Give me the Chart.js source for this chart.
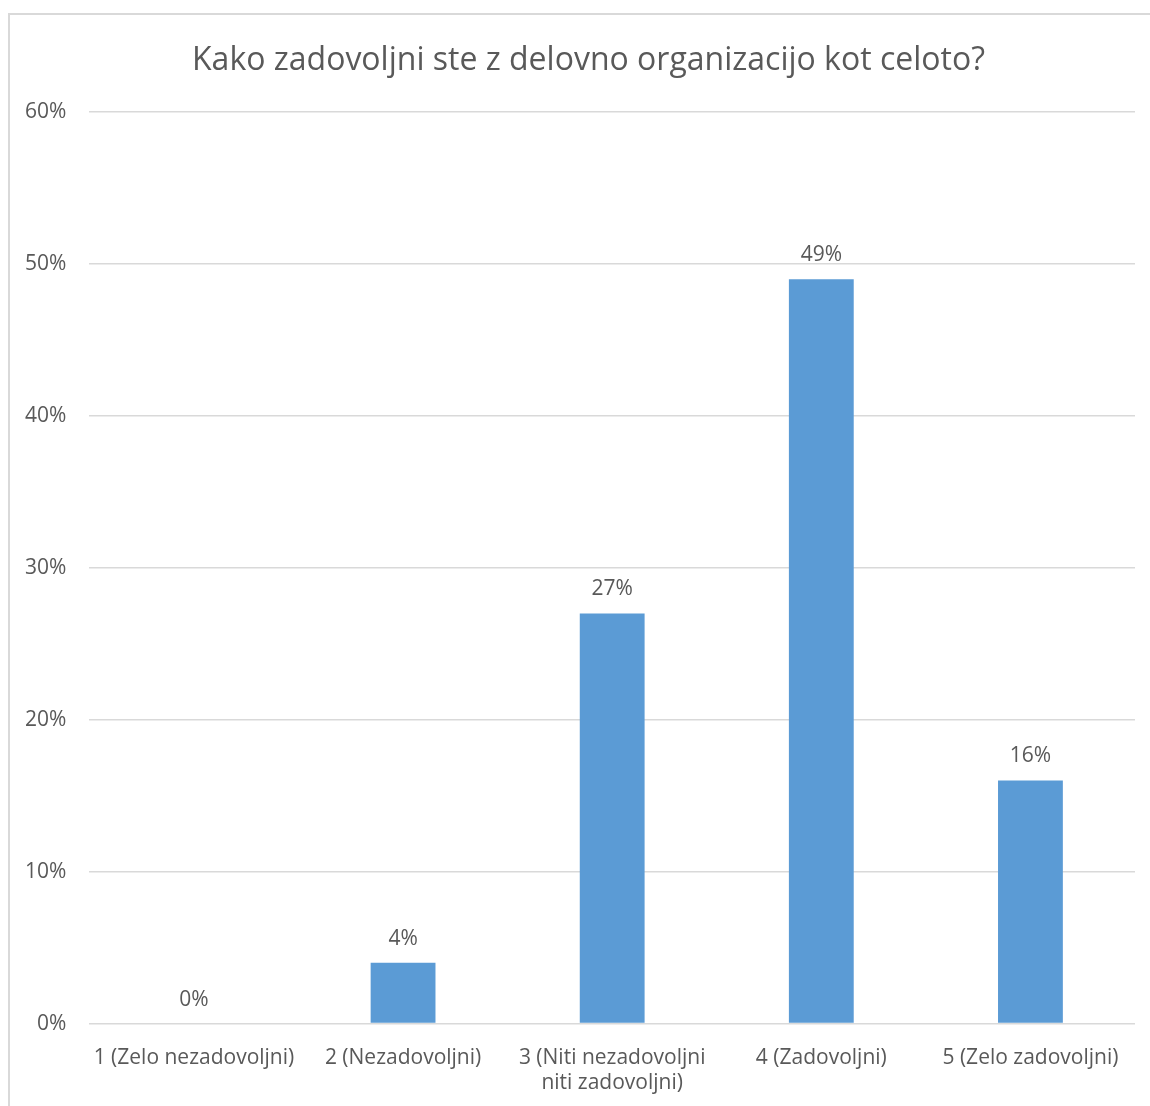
<!DOCTYPE html>
<html>
<head>
<meta charset="utf-8">
<script src="https://cdn.jsdelivr.net/npm/chart.js@4/dist/chart.umd.min.js"></script>
<style>
  html, body { margin: 0; padding: 0; background: #fff; overflow: hidden; }
  .frame { position: absolute; left: 8px; top: 13px; width: 1160px; height: 1110px; border: 2px solid #D9D9D9; box-sizing: border-box; }
  #chart { position: absolute; left: -10px; top: 0; }
</style>
</head>
<body>
<div class="frame"><canvas id="chart" width="1165" height="1095"></canvas></div>
<script>
const title = 'Kako zadovoljni ste z delovno organizacijo kot celoto?';
const categories = [
  '1 (Zelo nezadovoljni)',
  '2 (Nezadovoljni)',
  ['3 (Niti nezadovoljni', 'niti zadovoljni)'],
  '4 (Zadovoljni)',
  '5 (Zelo zadovoljni)'
];
const shares = [0, 4, 27, 49, 16];
const yTicks = [0, 10, 20, 30, 40, 50, 60];

const FONT = "'Open Sans', sans-serif";
const TEXT = '#595959';

// title centred on the whole frame, value labels above each bar
const annotate = {
  id: 'annotate',
  afterDraw(chart) {
    const ctx = chart.ctx;
    ctx.save();
    ctx.fillStyle = TEXT;
    ctx.textAlign = 'center';
    ctx.textBaseline = 'middle';
    ctx.font = `32px ${FONT}`;
    ctx.fillText(title, chart.width / 2 + 6, 46);
    ctx.font = `21px ${FONT}`;
    chart.getDatasetMeta(0).data.forEach((bar, i) => {
      ctx.fillText(shares[i] + '%', bar.x, bar.y - 24);
    });
    ctx.restore();
  }
};

new Chart(document.getElementById('chart'), {
  type: 'bar',
  data: {
    labels: categories,
    datasets: [{ data: shares, backgroundColor: '#5B9BD5', categoryPercentage: 1, barPercentage: 0.31 }]
  },
  options: {
    responsive: false,
    animation: false,
    devicePixelRatio: 1,
    layout: { padding: { left: 2, right: 30, top: 97, bottom: 0 } },
    scales: {
      x: {
        grid: { display: false },
        border: { display: false },
        ticks: { color: TEXT, font: { family: FONT, size: 21 }, padding: 14, maxRotation: 0, autoSkip: false }
      },
      y: {
        min: 0, max: 60,
        afterBuildTicks: axis => { axis.ticks = yTicks.map(v => ({ value: v })); },
        grid: { color: '#D9D9D9', lineWidth: 1.5, drawTicks: false },
        border: { display: false },
        ticks: { color: TEXT, font: { family: FONT, size: 21 }, padding: 23, callback: v => v + '%' }
      }
    },
    plugins: {
      legend: { display: false },
      tooltip: { enabled: false },
      title: { display: false }
    }
  },
  plugins: [annotate]
});
</script>
</body>
</html>
